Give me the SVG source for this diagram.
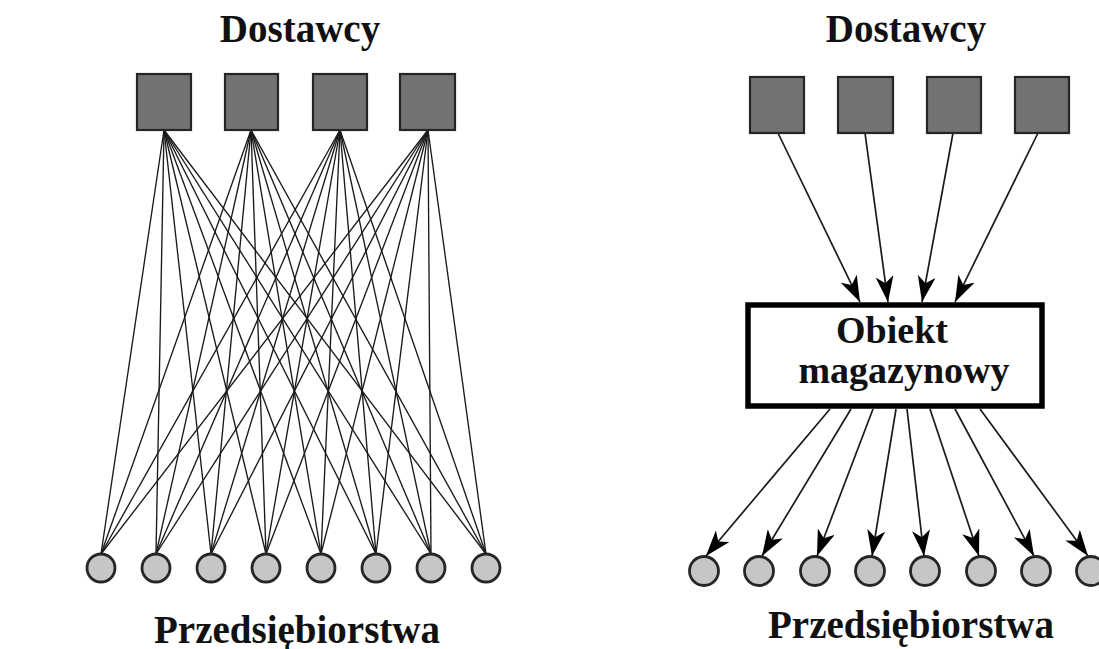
<svg xmlns="http://www.w3.org/2000/svg" width="1099" height="649" viewBox="0 0 1099 649">
<style>
.t{font-family:"Liberation Serif","Times New Roman",serif;font-weight:bold;fill:#111;text-anchor:middle}
.sq{fill:#737373;stroke:#262626;stroke-width:2.2}
.ci{fill:#c6c6c6;stroke:#262626;stroke-width:2.8}
.ln{stroke:#1a1a1a;stroke-width:1.35;fill:none}
.ar{stroke:#1a1a1a;stroke-width:1.7;fill:none;marker-end:url(#arr)}
</style>
<defs>
<marker id="arr" viewBox="0 0 26 18" refX="26" refY="9" markerWidth="26" markerHeight="18" markerUnits="userSpaceOnUse" orient="auto">
<path d="M0,0 L26,9 L0,18 L7,9 z" fill="#000"/>
</marker>
</defs>
<rect width="1099" height="649" fill="#fff"/>

<g id="connectors">
<g id="left-lines">
<line class="ln" x1="164" y1="130" x2="101" y2="554"/><line class="ln" x1="164" y1="130" x2="156" y2="554"/><line class="ln" x1="164" y1="130" x2="211" y2="554"/><line class="ln" x1="164" y1="130" x2="266" y2="554"/><line class="ln" x1="164" y1="130" x2="321" y2="554"/><line class="ln" x1="164" y1="130" x2="376" y2="554"/><line class="ln" x1="164" y1="130" x2="431" y2="554"/><line class="ln" x1="164" y1="130" x2="486" y2="554"/>
<line class="ln" x1="251" y1="130" x2="101" y2="554"/><line class="ln" x1="251" y1="130" x2="156" y2="554"/><line class="ln" x1="251" y1="130" x2="211" y2="554"/><line class="ln" x1="251" y1="130" x2="266" y2="554"/><line class="ln" x1="251" y1="130" x2="321" y2="554"/><line class="ln" x1="251" y1="130" x2="376" y2="554"/><line class="ln" x1="251" y1="130" x2="431" y2="554"/><line class="ln" x1="251" y1="130" x2="486" y2="554"/>
<line class="ln" x1="340" y1="130" x2="101" y2="554"/><line class="ln" x1="340" y1="130" x2="156" y2="554"/><line class="ln" x1="340" y1="130" x2="211" y2="554"/><line class="ln" x1="340" y1="130" x2="266" y2="554"/><line class="ln" x1="340" y1="130" x2="321" y2="554"/><line class="ln" x1="340" y1="130" x2="376" y2="554"/><line class="ln" x1="340" y1="130" x2="431" y2="554"/><line class="ln" x1="340" y1="130" x2="486" y2="554"/>
<line class="ln" x1="428" y1="130" x2="101" y2="554"/><line class="ln" x1="428" y1="130" x2="156" y2="554"/><line class="ln" x1="428" y1="130" x2="211" y2="554"/><line class="ln" x1="428" y1="130" x2="266" y2="554"/><line class="ln" x1="428" y1="130" x2="321" y2="554"/><line class="ln" x1="428" y1="130" x2="376" y2="554"/><line class="ln" x1="428" y1="130" x2="431" y2="554"/><line class="ln" x1="428" y1="130" x2="486" y2="554"/>
</g>
<g id="right-in">
<line class="ar" x1="778" y1="133" x2="860" y2="302"/>
<line class="ar" x1="865" y1="133" x2="888" y2="302"/>
<line class="ar" x1="953" y1="133" x2="922" y2="302"/>
<line class="ar" x1="1038" y1="133" x2="955" y2="302"/>
</g>
<g id="right-out">
<line class="ar" x1="830" y1="409" x2="706" y2="556"/>
<line class="ar" x1="851" y1="409" x2="762" y2="556"/>
<line class="ar" x1="873" y1="409" x2="817" y2="556"/>
<line class="ar" x1="896" y1="409" x2="872" y2="556"/>
<line class="ar" x1="907" y1="409" x2="924" y2="556"/>
<line class="ar" x1="930" y1="409" x2="979" y2="556"/>
<line class="ar" x1="955" y1="409" x2="1034" y2="556"/>
<line class="ar" x1="980" y1="409" x2="1088" y2="556"/>
</g>
</g>

<g id="left-suppliers">
<rect id="ls1" class="sq" x="137" y="74" width="54" height="56"/>
<rect id="ls2" class="sq" x="225" y="74" width="53" height="56"/>
<rect id="ls3" class="sq" x="313" y="74" width="54" height="56"/>
<rect id="ls4" class="sq" x="400" y="74" width="55" height="56"/>
</g>
<g id="left-companies">
<circle id="lc1" class="ci" cx="101" cy="568" r="14"/>
<circle id="lc2" class="ci" cx="156" cy="568" r="14"/>
<circle id="lc3" class="ci" cx="211" cy="568" r="14"/>
<circle id="lc4" class="ci" cx="266" cy="568" r="14"/>
<circle id="lc5" class="ci" cx="321" cy="568" r="14"/>
<circle id="lc6" class="ci" cx="376" cy="568" r="14"/>
<circle id="lc7" class="ci" cx="431" cy="568" r="14"/>
<circle id="lc8" class="ci" cx="486" cy="568" r="14"/>
</g>
<g id="right-suppliers">
<rect id="rs1" class="sq" x="750" y="77" width="54" height="56"/>
<rect id="rs2" class="sq" x="838" y="77" width="55" height="56"/>
<rect id="rs3" class="sq" x="927" y="77" width="54" height="56"/>
<rect id="rs4" class="sq" x="1015" y="77" width="54" height="56"/>
</g>
<g id="warehouse">
<rect x="748" y="305" width="294" height="101" fill="#fff" stroke="#000" stroke-width="5.5"/>
<text class="t" x="892" y="343" font-size="38">Obiekt</text>
<text class="t" x="904" y="383" font-size="38">magazynowy</text>
</g>
<g id="right-companies">
<circle id="rc1" class="ci" cx="704" cy="571" r="14.5"/>
<circle id="rc2" class="ci" cx="759" cy="571" r="14.5"/>
<circle id="rc3" class="ci" cx="815" cy="571" r="14.5"/>
<circle id="rc4" class="ci" cx="870" cy="571" r="14.5"/>
<circle id="rc5" class="ci" cx="925" cy="571" r="14.5"/>
<circle id="rc6" class="ci" cx="981" cy="571" r="14.5"/>
<circle id="rc7" class="ci" cx="1036" cy="571" r="14.5"/>
<circle id="rc8" class="ci" cx="1091" cy="571" r="14.5"/>
</g>
<g id="labels">
<text class="t" x="300" y="42" font-size="39">Dostawcy</text>
<text class="t" x="906" y="42" font-size="39">Dostawcy</text>
<text class="t" x="297" y="643" font-size="39">Przedsiębiorstwa</text>
<text class="t" x="911" y="638" font-size="39">Przedsiębiorstwa</text>
</g>
</svg>
